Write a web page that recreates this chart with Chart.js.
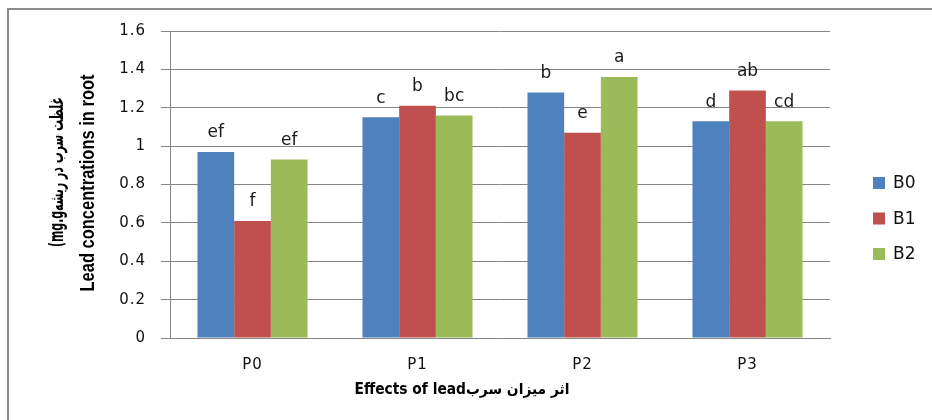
<!DOCTYPE html>
<html>
<head>
<meta charset="utf-8">
<script src="https://cdn.jsdelivr.net/npm/chart.js@4/dist/chart.umd.min.js"></script>
<style>
  html, body { margin: 0; padding: 0; background: #ffffff; }
  #wrap { position: relative; width: 932px; height: 420px; }
</style>
</head>
<body>
<div id="wrap"><canvas id="c" width="932" height="420"></canvas></div>
<script>
// ---- data ----
const categories = ['P0', 'P1', 'P2', 'P3'];
const seriesNames = ['B0', 'B1', 'B2'];
const valuesB0 = [0.97, 1.15, 1.28, 1.13];
const valuesB1 = [0.61, 1.21, 1.07, 1.29];
const valuesB2 = [0.93, 1.16, 1.36, 1.13];
const lettersB0 = ['ef', 'c', 'b', 'd'];
const lettersB1 = ['f', 'b', 'e', 'ab'];
const lettersB2 = ['ef', 'bc', 'a', 'cd'];
const yTickLabels = ['0', '0.2', '0.4', '0.6', '0.8', '1', '1.2', '1.4', '1.6'];
const xTitle = 'Effects of leadاثر میزان سرب';
const yTitleLine1 = '(mg.gغلظت سرب در ریشه';
const yTitleLine2 = 'Lead concentrations in root';

const colors = ['#4F81BD', '#C0504D', '#9BBB59'];
const seriesValues = [valuesB0, valuesB1, valuesB2];
const seriesLetters = [lettersB0, lettersB1, lettersB2];

function fitText(ctx, text, x, y, font, targetW, rot) {
  ctx.save();
  ctx.font = font;
  const w = ctx.measureText(text).width;
  ctx.translate(x, y);
  if (rot) ctx.rotate(rot);
  ctx.scale(targetW / w, 1);
  ctx.textAlign = 'center';
  ctx.textBaseline = 'middle';
  ctx.fillText(text, 0, 0);
  ctx.restore();
}

const decor = {
  id: 'decor',
  beforeDraw(chart) {
    chart.ctx.letterSpacing = '1px';
  },
  afterDatasetsDraw(chart) {
    const ctx = chart.ctx;
    ctx.save();
    ctx.letterSpacing = '0px';
    ctx.fillStyle = '#1a1a1a';
    ctx.font = '17px "DejaVu Sans"';
    ctx.textAlign = 'center';
    ctx.textBaseline = 'middle';
    chart.data.datasets.forEach((ds, i) => {
      const meta = chart.getDatasetMeta(i);
      meta.data.forEach((bar, j) => {
        ctx.fillText(seriesLetters[i][j], bar.x, bar.y - 19);
      });
    });
    ctx.restore();
  },
  afterDraw(chart) {
    const ctx = chart.ctx;
    ctx.save();
    ctx.letterSpacing = '0px';
    // outer frame
    ctx.strokeStyle = '#8c8c8c';
    ctx.lineWidth = 2;
    ctx.beginPath();
    ctx.moveTo(8, 420);
    ctx.lineTo(8, 9);
    ctx.lineTo(932, 9);
    ctx.stroke();
    // legend
    ctx.font = '17px "DejaVu Sans"';
    ctx.textAlign = 'left';
    ctx.textBaseline = 'middle';
    const ly = [183, 218.5, 254];
    chart.data.datasets.forEach((ds, i) => {
      ctx.fillStyle = ds.backgroundColor;
      ctx.fillRect(873, ly[i] - 6, 12, 12);
      ctx.fillStyle = '#111';
      ctx.fillText(ds.label, 893, ly[i] + 1);
    });
    // axis titles
    ctx.fillStyle = '#000';
    fitText(ctx, xTitle, 462, 390, 'bold 15px "DejaVu Sans"', 215, 0);
    fitText(ctx, yTitleLine1, 58, 172, 'bold 19px "DejaVu Sans"', 150, -Math.PI / 2);
    fitText(ctx, yTitleLine2, 88, 183, 'bold 20px "Liberation Sans"', 217, -Math.PI / 2);
    ctx.restore();
  }
};

new Chart(document.getElementById('c'), {
  type: 'bar',
  data: {
    labels: categories,
    datasets: seriesNames.map((n, i) => ({
      label: n,
      data: seriesValues[i],
      backgroundColor: colors[i],
      borderWidth: 0,
      categoryPercentage: 0.667,
      barPercentage: 1.0
    }))
  },
  options: {
    responsive: false,
    animation: false,
    layout: { padding: { top: 31, right: 102, left: 0, bottom: 0 } },
    plugins: { legend: { display: false }, tooltip: { enabled: false } },
    scales: {
      x: {
        grid: { display: false, drawTicks: false },
        border: { display: true, color: '#868686', width: 1 },
        ticks: { color: '#111', font: { family: 'DejaVu Sans', size: 15 }, padding: 18 },
        afterFit(s) { s.height = 82; }
      },
      y: {
        min: 0, max: 1.6,
        grid: { color: '#868686', lineWidth: 1, tickLength: 9, drawTicks: true },
        border: { display: true, color: '#868686', width: 1 },
        ticks: {
          stepSize: 0.2, color: '#111', padding: 15,
          font: { family: 'DejaVu Sans', size: 15 },
          callback: (v, i) => yTickLabels[i]
        },
        afterFit(s) { s.width = 170; }
      }
    }
  },
  plugins: [decor]
});
</script>
</body>
</html>
